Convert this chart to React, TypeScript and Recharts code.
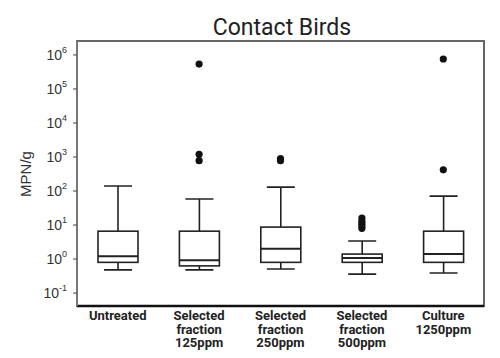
import React from 'react';
import { ComposedChart, Bar, Scatter, XAxis, YAxis } from 'recharts';

const categories = ['Untreated', 'Selected fraction 125ppm', 'Selected fraction 250ppm', 'Selected fraction 500ppm', 'Culture 1250ppm'];
const whiskerLow = [0.48, 0.48, 0.51, 0.36, 0.39];
const q1 = [0.8, 0.63, 0.8, 0.8, 0.8];
const median = [1.2, 0.93, 2.0, 1.07, 1.4];
const q3 = [6.6, 6.6, 8.7, 1.4, 6.6];
const whiskerHigh = [140, 58, 130, 3.4, 71];
const outliers: [number, number][] = [
  [1, 540000], [1, 1200], [1, 780],
  [2, 900], [2, 780],
  [3, 16], [3, 13], [3, 11], [3, 9.5], [3, 8],
  [4, 760000], [4, 420],
];
const yTicks = [-1, 0, 1, 2, 3, 4, 5, 6];

const lg = (v: number) => Math.log10(v);

const boxData = categories.map((name, i) => ({
  name,
  lo: lg(whiskerLow[i]),
  q1: lg(q1[i]),
  med: lg(median[i]),
  q3: lg(q3[i]),
  hi: lg(whiskerHigh[i]),
}));

const outlierData = outliers.map(([i, v]) => ({ name: categories[i], v: lg(v) }));

const BoxShape = (props: any) => {
  const { x, y, width, height, payload } = props;
  const ppu = height / (payload.q3 - payload.q1);
  const yOf = (v: number) => y + (payload.q3 - v) * ppu;
  const cx = x + width / 2;
  const cap = 14;
  const s = '#222';
  return (
    <g stroke={s} strokeWidth={1.6} fill="none">
      <line x1={cx} x2={cx} y1={yOf(payload.hi)} y2={y} />
      <line x1={cx - cap} x2={cx + cap} y1={yOf(payload.hi)} y2={yOf(payload.hi)} />
      <line x1={cx} x2={cx} y1={y + height} y2={yOf(payload.lo)} />
      <line x1={cx - cap} x2={cx + cap} y1={yOf(payload.lo)} y2={yOf(payload.lo)} />
      <rect x={x} y={y} width={width} height={height} fill="#fff" />
      <line x1={x} x2={x + width} y1={yOf(payload.med)} y2={yOf(payload.med)} strokeWidth={2} />
    </g>
  );
};

const YTick = (props: any) => {
  const { x, y, payload } = props;
  return (
    <text x={x - 4} y={y + 5} textAnchor="end" fill="#333" fontSize={14} fontFamily="Liberation Sans, Arial, sans-serif">
      10
      <tspan dy={-7} fontSize={9}>{payload.value}</tspan>
    </text>
  );
};

const XTick = (props: any) => {
  const { x, y, payload } = props;
  const lines: string[] = payload.value.split(' ');
  return (
    <text x={x} y={y + 6} textAnchor="middle" fill="#222" fontSize={13} fontWeight="bold" fontFamily="Roboto, sans-serif">
      {lines.map((l, i) => (
        <tspan key={i} x={x} dy={i === 0 ? 0 : 13.5}>{l}</tspan>
      ))}
    </text>
  );
};

export default function App() {
  return (
    <div style={{ position: 'relative', width: 500, height: 358, background: '#fff' }}>
      <style>{'body{margin:0}'}</style>
      <div style={{ position: 'absolute', top: 14, left: 0, width: 564, textAlign: 'center', fontSize: 23, fontFamily: 'Roboto, sans-serif', color: '#222' }}>
        Contact Birds
      </div>
      <div style={{ position: 'absolute', left: 25, top: 174, transform: 'translate(-50%, -50%) rotate(-90deg)', fontSize: 15, fontFamily: 'Liberation Sans, Arial, sans-serif', color: '#333', whiteSpace: 'nowrap' }}>
        MPN/g
      </div>
      <ComposedChart width={500} height={358} data={boxData} margin={{ top: 41, right: 16, left: 27, bottom: 2 }}>
        <rect x={77} y={41} width={407} height={265} fill="none" stroke="#666" strokeWidth={2} />
        <XAxis dataKey="name" type="category" allowDuplicatedCategory={false} height={50} tickLine={false} axisLine={{ stroke: '#111', strokeWidth: 2.5 }} tick={<XTick />} interval={0} />
        <YAxis type="number" domain={[-1.38, 6.41]} ticks={yTicks} width={50} tick={<YTick />} tickSize={4} tickLine={{ stroke: '#444' }} axisLine={{ stroke: '#777', strokeWidth: 2 }} allowDataOverflow />
        <Bar dataKey={(d: any) => [d.q1, d.q3]} barSize={40} shape={<BoxShape />} isAnimationActive={false} />
        <Scatter data={outlierData} dataKey="v" fill="#111" isAnimationActive={false} shape={(p: any) => <circle cx={p.cx} cy={p.cy} r={3.6} fill="#111" />} />
      </ComposedChart>
    </div>
  );
}
